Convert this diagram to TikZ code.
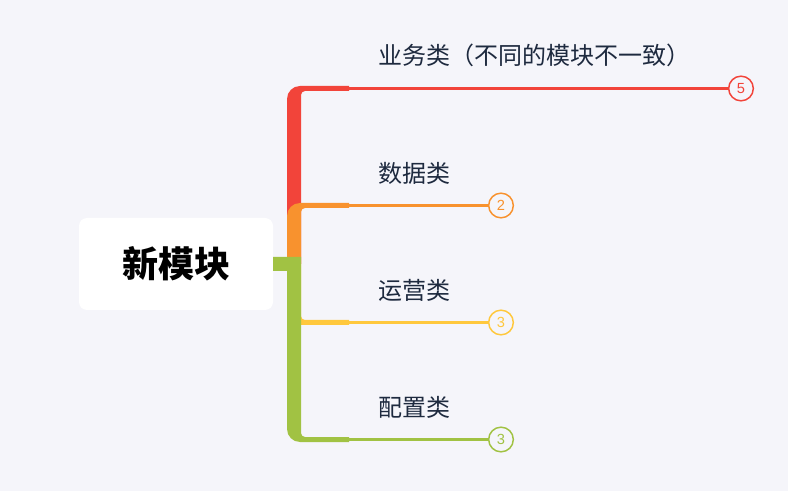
\documentclass[tikz,border=0pt]{standalone}
\usepackage{fontspec}
\setmainfont{Liberation Sans}
\newfontfamily\cjk{Noto Sans CJK SC}
\definecolor{bg}{HTML}{F5F5FA}
\definecolor{cred}{HTML}{F2443A}
\definecolor{corange}{HTML}{F8922E}
\definecolor{cyellow}{HTML}{FFC83D}
\definecolor{cgreen}{HTML}{A1C243}
\definecolor{txt}{HTML}{1E2A3F}
\tikzset{
  lbl/.style={anchor=west, inner sep=0pt, text=txt, font=\cjk\fontsize{18pt}{20pt}\selectfont},
  cnt/.style={circle, draw=#1, text=#1, fill=bg, line width=1.1pt, minimum size=18.5pt, inner sep=0pt, font=\fontsize{11pt}{12pt}\selectfont},
  thin/.style={line width=2.2pt, draw=#1},
}
\begin{document}
\begin{tikzpicture}[x=0.75pt,y=0.75pt]
\useasboundingbox[fill=bg] (0,0) rectangle (788,-491);
% centre
\node[fill=white, rounded corners=6pt, minimum width=145.5pt, minimum height=69pt, inner sep=0pt,
      font=\cjk\bfseries\fontsize{27pt}{30pt}\selectfont, text=black] (root) at (176,-264) {新模块};
% branch shapes
\fill[cred] (287,-264) -- (287,-99) arc[start angle=180,end angle=90,radius=13] -- (349,-86) -- (349,-91)
  -- (305,-91) arc[start angle=90,end angle=180,radius=4] -- (301,-264) -- cycle;
\fill[corange] (287,-264) -- (287,-216) arc[start angle=180,end angle=90,radius=13] -- (349,-203) -- (349,-208)
  -- (305,-208) arc[start angle=90,end angle=180,radius=4] -- (301,-264) -- cycle;
\fill[cyellow] (287,-264) -- (287,-312) arc[start angle=180,end angle=270,radius=13] -- (349,-325) -- (349,-320)
  -- (305,-320) arc[start angle=270,end angle=180,radius=4] -- (301,-264) -- cycle;
\fill[cgreen] (273,-257) -- (301,-257) -- (301,-433) arc[start angle=180,end angle=270,radius=4] -- (349,-437)
  -- (349,-442) -- (300,-442) arc[start angle=270,end angle=180,radius=13] -- (287,-271) -- (273,-271) -- cycle;
% coordinates
\coordinate (r0) at (348,-88.5);
\coordinate (o0) at (348,-205.5);
\coordinate (y0) at (348,-322.5);
\coordinate (g0) at (348,-439.5);
% count circles
\node[cnt=cred] (rc) at (741,-88.5) {5};
\node[cnt=corange] (oc) at (501,-205.5) {2};
\node[cnt=cyellow] (yc) at (501,-322.5) {3};
\node[cnt=cgreen] (gc) at (501,-439.5) {3};
\draw[thin=cred] (r0) -- (rc);
\draw[thin=corange] (o0) -- (oc);
\draw[thin=cyellow] (y0) -- (yc);
\draw[thin=cgreen] (g0) -- (gc);
% labels
\node[lbl] (rl) at (378,-55.5) {业务类（不同的模块不一致）};
\node[lbl] (ol) at (378,-173) {数据类};
\node[lbl] (yl) at (378,-290) {运营类};
\node[lbl] (gl) at (378,-407) {配置类};
\end{tikzpicture}
\end{document}
